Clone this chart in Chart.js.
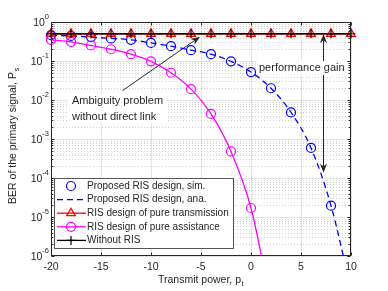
<!DOCTYPE html>
<html>
<head>
<meta charset="utf-8">
<script src="https://cdn.jsdelivr.net/npm/chart.js@4.4.1/dist/chart.umd.min.js"></script>
<style>
html, body { margin: 0; padding: 0; background: #fff; }
canvas { display: block; }
</style>
</head>
<body>
<canvas id="berChart" width="388" height="291"></canvas>
<script>
// --- values ---
const power = [-20, -18, -16, -14, -12, -10, -8, -6, -4, -2, 0, 2, 4, 6, 8, 10];
const simBer = [0.46, 0.44, 0.41, 0.38, 0.35, 0.29, 0.24, 0.19, 0.15, 0.098, 0.052, 0.020, 0.0048, 5.9e-4, 1.95e-5, null];
const anaBer = [0.46, 0.44, 0.41, 0.38, 0.35, 0.29, 0.24, 0.19, 0.15, 0.098, 0.052, 0.020, 0.0048, 5.9e-4, 1.95e-5, 1.4e-7];
const transBer = [0.5, 0.5, 0.5, 0.5, 0.5, 0.5, 0.5, 0.5, 0.5, 0.5, 0.5, 0.5, 0.5, 0.5, 0.5, 0.5];
const assistBer = [0.35, 0.31, 0.25, 0.20, 0.15, 0.098, 0.050, 0.019, 0.0044, 4.8e-4, 1.7e-5, 5.9e-8, null, null, null, null];
const noRisBer = [0.5, 0.5, 0.5, 0.5, 0.5, 0.5, 0.5, 0.5, 0.5, 0.5, 0.5, 0.5, 0.5, 0.5, 0.5, 0.5];

const xTicks = [-20, -15, -10, -5, 0, 5, 10];
const yTickExps = [0, -1, -2, -3, -4, -5, -6];
const legendLabels = [
  "Proposed RIS design, sim.",
  "Proposed RIS design, ana.",
  "RIS design of pure transmission",
  "RIS design of pure assistance",
  "Without RIS"
];

const INK = "#262626";
const FONT = '"Liberation Sans", Arial, sans-serif';

function pts(vals) {
  return power.map((x, i) => ({ x: x, y: vals[i] }));
}

const clipBox = { left: 8, right: 8, top: 8, bottom: 0 };

// --- datasets (later in MATLAB order = drawn on top, so lower "order") ---
const datasets = [
  {
    label: legendLabels[0], data: pts(simBer), showLine: false,
    pointStyle: "circle", pointRadius: 4.5, pointBorderWidth: 1.2,
    borderColor: "#0000ff", pointBackgroundColor: "rgba(0,0,0,0)", order: 5, clip: clipBox
  },
  {
    label: legendLabels[1], data: pts(anaBer), borderColor: "#0000ff", borderWidth: 1.3,
    borderDash: [6, 4], pointRadius: 0, cubicInterpolationMode: "monotone", order: 4, clip: clipBox
  },
  {
    label: legendLabels[2], data: pts(transBer), borderColor: "#ff0000", borderWidth: 1.3,
    pointStyle: "triangle", pointRadius: 5, pointBorderWidth: 1.3,
    pointBackgroundColor: "rgba(0,0,0,0)", order: 3, clip: clipBox
  },
  {
    label: legendLabels[3], data: pts(assistBer), borderColor: "#ff00ff", borderWidth: 1.3,
    pointStyle: "circle", pointRadius: 4.5, pointBorderWidth: 1.2,
    pointBackgroundColor: "rgba(0,0,0,0)", cubicInterpolationMode: "monotone", order: 2, clip: clipBox
  },
  {
    label: legendLabels[4], data: pts(noRisBer), borderColor: "#000000", borderWidth: 1.3,
    pointStyle: "cross", pointRadius: 4.5, pointBorderWidth: 1.2, order: 1, clip: clipBox
  }
];

// --- helpers for the MATLAB look ---
function arrow(ctx, x1, y1, x2, y2) {
  const ang = Math.atan2(y2 - y1, x2 - x1);
  const len = 9, wid = 3.5, back = 6.5;
  ctx.beginPath();
  ctx.moveTo(x1, y1);
  ctx.lineTo(x2 - Math.cos(ang) * back, y2 - Math.sin(ang) * back);
  ctx.stroke();
  ctx.beginPath();
  ctx.moveTo(x2, y2);
  ctx.lineTo(x2 - Math.cos(ang) * len - Math.sin(ang) * wid, y2 - Math.sin(ang) * len + Math.cos(ang) * wid);
  ctx.lineTo(x2 - Math.cos(ang) * back, y2 - Math.sin(ang) * back);
  ctx.lineTo(x2 - Math.cos(ang) * len + Math.sin(ang) * wid, y2 - Math.sin(ang) * len - Math.cos(ang) * wid);
  ctx.closePath();
  ctx.fill();
}

const matlabAxes = {
  id: "matlabAxes",
  beforeDatasetsDraw(chart) {
    const { ctx, chartArea: a, scales: { x, y } } = chart;
    ctx.save();
    ctx.lineWidth = 1;
    // minor log grid (dotted)
    ctx.strokeStyle = "rgba(38,38,38,0.22)";
    ctx.setLineDash([1, 2]);
    for (let e = -6; e < 0; e++) {
      for (let m = 2; m <= 9; m++) {
        const py = Math.round(y.getPixelForValue(m * Math.pow(10, e))) + 0.5;
        ctx.beginPath(); ctx.moveTo(a.left, py); ctx.lineTo(a.right, py); ctx.stroke();
      }
    }
    // major grid
    ctx.setLineDash([]);
    ctx.strokeStyle = "rgba(38,38,38,0.13)";
    xTicks.forEach(v => {
      const px = Math.round(x.getPixelForValue(v)) + 0.5;
      ctx.beginPath(); ctx.moveTo(px, a.top); ctx.lineTo(px, a.bottom); ctx.stroke();
    });
    yTickExps.forEach(e => {
      const py = Math.round(y.getPixelForValue(Math.pow(10, e))) + 0.5;
      ctx.beginPath(); ctx.moveTo(a.left, py); ctx.lineTo(a.right, py); ctx.stroke();
    });
    ctx.restore();
  },
  afterDatasetsDraw(chart) {
    const { ctx, chartArea: a, scales: { x, y } } = chart;
    ctx.save();
    ctx.strokeStyle = INK;
    ctx.fillStyle = INK;
    ctx.lineWidth = 1;
    const L = Math.round(a.left) + 0.5, R = Math.round(a.right) - 0.5;
    const T = Math.round(a.top) + 0.5, B = Math.round(a.bottom) - 0.5;

    // tick marks (inward)
    ctx.beginPath();
    xTicks.forEach(v => {
      const px = Math.round(x.getPixelForValue(v)) + 0.5;
      ctx.moveTo(px, B); ctx.lineTo(px, B - 3);
      ctx.moveTo(px, T); ctx.lineTo(px, T + 3);
    });
    for (let e = -6; e <= 0; e++) {
      for (let m = 1; m <= 9; m++) {
        if (e === 0 && m > 1) break;
        const py = Math.round(y.getPixelForValue(m * Math.pow(10, e))) + 0.5;
        const len = m === 1 ? 3 : 1.8;
        ctx.moveTo(L, py); ctx.lineTo(L + len, py);
        ctx.moveTo(R, py); ctx.lineTo(R - len, py);
      }
    }
    ctx.stroke();

    // annotations
    const a1 = [x.getPixelForValue(-12.85), y.getPixelForValue(0.0174)];
    const a2 = [x.getPixelForValue(-5.1), y.getPixelForValue(0.42)];
    arrow(ctx, a1[0], a1[1], a2[0], a2[1]);

    const gx = Math.round(x.getPixelForValue(7.2)) + 0.5;
    const gTop = y.getPixelForValue(0.49), gBot = y.getPixelForValue(1.37e-4);
    const gMid = (gTop + gBot) / 2;
    arrow(ctx, gx, gMid, gx, gTop);
    arrow(ctx, gx, gMid, gx, gBot);

    ctx.font = "11px " + FONT;
    ctx.textBaseline = "middle";
    ctx.textAlign = "left";
    // "Ambiguity problem" text with white box
    const tx = x.getPixelForValue(-17.9), ty = y.getPixelForValue(0.0093);
    ctx.fillStyle = "#fff";
    ctx.fillRect(tx - 4, ty - 7, 99, 29);
    ctx.fillStyle = INK;
    ctx.fillText("Ambiguity problem", tx, ty);
    ctx.fillText("without direct link", tx, ty + 16);

    const px2 = x.getPixelForValue(0.8), py2 = y.getPixelForValue(0.066);
    ctx.fillStyle = "#fff";
    ctx.fillRect(px2 - 2, py2 - 7, 90, 14);
    ctx.fillStyle = INK;
    ctx.fillText("performance gain", px2, py2);

    // legend
    const lx = 54.5, ly = 178.5, lw = 179, lh = 70;
    ctx.fillStyle = "#fff";
    ctx.fillRect(lx, ly, lw, lh);
    ctx.strokeStyle = "#555";
    ctx.strokeRect(lx, ly, lw, lh);
    ctx.font = "10px " + FONT;
    legendLabels.forEach((lab, i) => {
      const ds = datasets[i];
      const ry = 186 + i * 13.6;
      const s0 = 57, s1 = 86, sm = 71;
      ctx.strokeStyle = ds.borderColor;
      ctx.lineWidth = ds.borderWidth || 1.2;
      if (ds.showLine !== false) {
        ctx.setLineDash(ds.borderDash || []);
        ctx.beginPath(); ctx.moveTo(s0, ry); ctx.lineTo(s1, ry); ctx.stroke();
        ctx.setLineDash([]);
      }
      if (ds.pointRadius > 0) {
        ctx.fillStyle = "rgba(0,0,0,0)";
        ctx.lineWidth = ds.pointBorderWidth;
        Chart.helpers.drawPoint(ctx, { pointStyle: ds.pointStyle, radius: ds.pointRadius, borderWidth: ds.pointBorderWidth, rotation: 0 }, sm, ry);
      }
      ctx.fillStyle = INK;
      ctx.fillText(lab, 87, ry);
    });

    // frame
    ctx.strokeStyle = INK;
    ctx.lineWidth = 1;
    ctx.strokeRect(L, T, R - L, B - T);

    // tick labels
    ctx.fillStyle = INK;
    ctx.font = "10.5px " + FONT;
    ctx.textAlign = "center";
    ctx.textBaseline = "middle";
    xTicks.forEach(v => ctx.fillText(String(v), x.getPixelForValue(v), a.bottom + 11));

    yTickExps.forEach(e => {
      const py = y.getPixelForValue(Math.pow(10, e));
      ctx.font = "7.5px " + FONT;
      const es = String(e).replace("-", "-");
      const ew = ctx.measureText(es).width;
      ctx.textAlign = "left";
      ctx.fillText(es, 49 - ew, py - 5);
      ctx.font = "10.5px " + FONT;
      ctx.textAlign = "right";
      ctx.fillText("10", 49 - ew, py + 1);
    });

    // axis titles
    ctx.textAlign = "left";
    ctx.font = "10.5px " + FONT;
    const xt = "Transmit power, p";
    const xw = ctx.measureText(xt).width;
    const xs = (a.left + a.right) / 2 - (xw + 3) / 2;
    ctx.fillText(xt, xs, 280);
    ctx.font = "7.5px " + FONT;
    ctx.fillText("t", xs + xw + 0.5, 284);

    ctx.save();
    ctx.translate(13, 136);
    ctx.rotate(-Math.PI / 2);
    ctx.font = "10.5px " + FONT;
    const yt = "BER of the primary signal, P";
    const yw = ctx.measureText(yt).width;
    ctx.fillText(yt, -(yw + 4) / 2, 0);
    ctx.font = "7.5px " + FONT;
    ctx.fillText("s", -(yw + 4) / 2 + yw + 0.5, 4);
    ctx.restore();

    ctx.restore();
  }
};

new Chart(document.getElementById("berChart"), {
  type: "line",
  data: { datasets: datasets },
  options: {
    responsive: false,
    animation: false,
    devicePixelRatio: 1,
    layout: { padding: { left: 51, right: 37, top: 22, bottom: 35 } },
    plugins: { legend: { display: false }, tooltip: { enabled: false } },
    scales: {
      x: { type: "linear", min: -20, max: 10, display: false },
      y: { type: "logarithmic", min: 1e-6, max: 1, display: false }
    }
  },
  plugins: [matlabAxes]
});
</script>
</body>
</html>
